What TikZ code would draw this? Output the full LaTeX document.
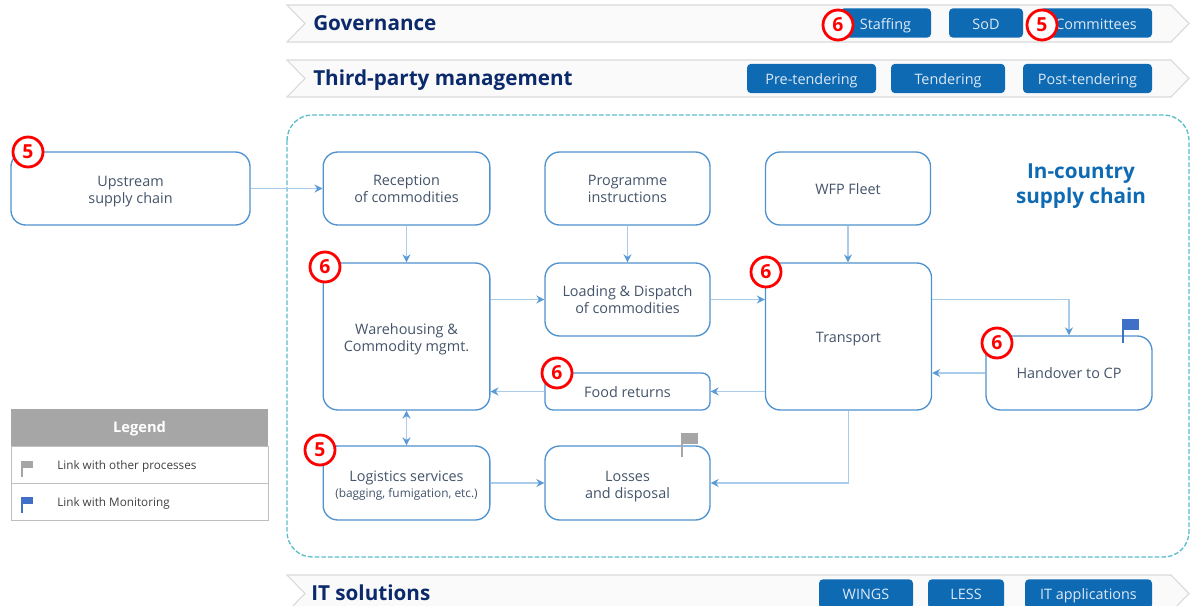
\documentclass[tikz,border=0pt]{standalone}
\usepackage{fontspec}
\setmainfont{Open Sans}
\usetikzlibrary{arrows.meta}
\definecolor{boxblue}{HTML}{4F92CF}
\definecolor{linkblue}{HTML}{A9CCEB}
\definecolor{tipblue}{HTML}{5B9BD5}
\definecolor{textgrey}{HTML}{44546A}
\definecolor{titlenavy}{HTML}{0B2A6B}
\definecolor{btnblue}{HTML}{0F6AB4}
\definecolor{btntext}{HTML}{DCE9F5}
\definecolor{dashteal}{HTML}{5BBDCB}
\definecolor{flagblue}{HTML}{3F6FC6}
\definecolor{flaggrey}{HTML}{A6A6A6}
\newcommand{\dropline}[1]{\rule{0pt}{#1}}
\tikzset{lower/.style={execute at begin node={\rule[-3pt]{0pt}{#1}}}}
\tikzstyle{process}=[rectangle,rounded corners=11pt,draw=boxblue,line width=1pt,fill=white,inner sep=0pt,align=center,text=textgrey,font=\fontsize{10.8}{12.75}\selectfont,minimum width=125pt]
\tikzstyle{button}=[rectangle,rounded corners=3pt,fill=btnblue,inner sep=0pt,text=btntext,font=\fontsize{10.8}{13}\selectfont,minimum height=22pt]
\tikzstyle{banner}=[draw=black!15,line width=0.8pt,fill=black!2]
\tikzstyle{bartitle}=[anchor=base west,inner sep=0pt,text=titlenavy,font=\fontsize{15.5}{18}\selectfont\bfseries]
\tikzstyle{badge}=[circle,draw=red,line width=2.1pt,fill=white,inner sep=0pt,minimum size=22.5pt,text=red,font=\fontsize{14.5}{15}\selectfont\bfseries]
\tikzstyle{legendrow}=[rectangle,draw=black!25,line width=0.6pt,fill=white,minimum width=192.75pt,minimum height=27.75pt,inner sep=0pt]
\tikzstyle{legendtext}=[anchor=west,inner sep=0pt,text=black!75,font=\fontsize{8.8}{10}\selectfont]
\tikzset{pics/flagmark/.style={code={
  \draw[#1,line width=1.3pt] (0,0) -- (0,24);
  \fill[#1] (1,0) rectangle (16,11);
}}}
\begin{document}
\begin{tikzpicture}[x=0.75pt,y=-0.75pt,>={Stealth[length=6pt,width=6pt,color=tipblue]}]
  \tikzstyle{link}=[draw=linkblue,line width=1pt,->]
  \clip (0,0) rectangle (1191,606);

  \foreach \top in {5,60,575}
    \draw[banner] (287,\top) -- (1171,\top) -- (1189,\top+18.5) -- (1171,\top+37) -- (287,\top+37) -- (305,\top+18.5) -- cycle;
  \node[bartitle] (governance) at (313,30.5) {Governance};
  \node[bartitle] (thirdparty) at (313,85.5) {Third-party management};
  \node[bartitle] (itsolutions) at (311,600.5) {IT solutions};

  \node[button,lower=16pt,minimum width=68.25pt] (staffing) at (885.5,23) {Staffing};
  \node[button,lower=16pt,minimum width=55.5pt] (sod) at (986,23) {SoD};
  \node[button,lower=16pt,minimum width=84pt] (committees) at (1096,23) {Committees};
  \node[button,lower=15pt,minimum width=96.75pt] (pretendering) at (811.5,78.5) {Pre-tendering};
  \node[button,lower=15pt,minimum width=85.5pt] (tendering) at (948,78.5) {Tendering};
  \node[button,lower=15pt,minimum width=96.75pt] (posttendering) at (1087.5,78.5) {Post-tendering};
  \node[button,lower=13.5pt,minimum width=70.5pt] (wings) at (866,594) {WINGS};
  \node[button,lower=13.5pt,minimum width=57pt] (less) at (966,594) {LESS};
  \node[button,lower=13.5pt,minimum width=95.25pt] (itapps) at (1088.5,594) {IT applications};

  \draw[draw=dashteal,line width=1pt,dash pattern=on 3.5pt off 1.5pt,rounded corners=19pt] (287,115) rectangle (1189,557);
  \node[align=center,inner sep=0pt,text=btnblue,font=\fontsize{15.5}{18.75}\selectfont\bfseries] (incountry) at (1081,186) {In-country\\supply chain};

  \node[process,minimum width=179.25pt,minimum height=54.75pt] (upstream) at (130.5,188.5) {\dropline{12.8pt}Upstream\\supply chain};
  \node[process,minimum height=54.75pt] (reception) at (406.5,188.5) {Reception\\of commodities};
  \node[process,minimum width=123.75pt,minimum height=54.75pt] (programme) at (627.5,188.5) {Programme\\instructions};
  \node[process,lower=15.5pt,minimum width=123.75pt,minimum height=54.75pt] (fleet) at (848,188.5) {WFP Fleet};
  \node[process,minimum height=110.25pt] (warehousing) at (406.5,336.5) {\dropline{12.3pt}Warehousing \&\\Commodity mgmt.};
  \node[process,minimum width=123.75pt,minimum height=54.75pt] (loading) at (627.5,299.5) {Loading \& Dispatch\\of commodities};
  \node[process,lower=15.5pt,minimum width=124.5pt,minimum height=110.25pt] (transport) at (848.5,336.5) {Transport};
  \node[process,lower=15.5pt,rounded corners=6pt,minimum width=123.75pt,minimum height=27.75pt] (food) at (627.5,391.5) {Food returns};
  \node[process,lower=14pt,minimum width=124.5pt,minimum height=55.5pt] (handover) at (1069,373) {Handover to CP};
  \node[process,minimum height=55.5pt] (logistics) at (406.5,483) {\dropline{12pt}Logistics services\\[-1pt]{\fontsize{8.9}{11}\selectfont(bagging, fumigation, etc.)}};
  \node[process,minimum width=123.75pt,minimum height=55.5pt] (losses) at (627.5,483) {\dropline{13.5pt}Losses\\and disposal};

  \draw[link] (upstream.east) -- (reception.west);
  \draw[link] (reception.south) -- (warehousing.north);
  \draw[link] (programme.south) -- (loading.north);
  \draw[link] (fleet.south) -- (transport.north -| fleet.south);
  \draw[link] (warehousing.east |- loading.west) -- (loading.west);
  \draw[link] (loading.east) -- (loading.east -| transport.west);
  \draw[link] (transport.east |- loading.east) -| (handover.north);
  \draw[link] (handover.west) -- (handover.west -| transport.east);
  \draw[link] (transport.west |- food.east) -- (food.east);
  \draw[link] (food.west) -- (food.west -| warehousing.east);
  \draw[link,<->] (logistics.north) -- (warehousing.south);
  \draw[link] (logistics.east) -- (losses.west);
  \draw[link] (transport.south) |- (losses.east);

  \pic at (1123,319) {flagmark=flagblue};
  \pic at (682,433) {flagmark=flaggrey};

  \node[rectangle,fill=flaggrey,text=white,lower=14pt,minimum width=192.75pt,minimum height=27.75pt,inner sep=0pt,font=\fontsize{11}{12}\selectfont\bfseries] (legend) at (139.5,427.5) {Legend};
  \node[legendrow] (legendother) at (139.5,465) {};
  \node[legendrow] (legendmonitor) at (139.5,502) {};
  \pic[scale=0.66] at (22,461) {flagmark=flaggrey};
  \pic[scale=0.66] at (22,497) {flagmark=flagblue};
  \node[legendtext] (othertext) at (57,466) {Link with other processes};
  \node[legendtext] (monitortext) at (57,503) {Link with Monitoring};

  \node[badge] (badgeupstream) at (28,152) {5};
  \node[badge] (badgewarehouse) at (325,267) {6};
  \node[badge] (badgefood) at (557,373) {6};
  \node[badge] (badgetransport) at (766,272) {6};
  \node[badge] (badgehandover) at (997,343) {6};
  \node[badge] (badgelogistics) at (320,450) {5};
  \node[badge] (badgestaffing) at (838,25) {6};
  \node[badge] (badgecommittees) at (1042,25) {5};
\end{tikzpicture}
\end{document}
